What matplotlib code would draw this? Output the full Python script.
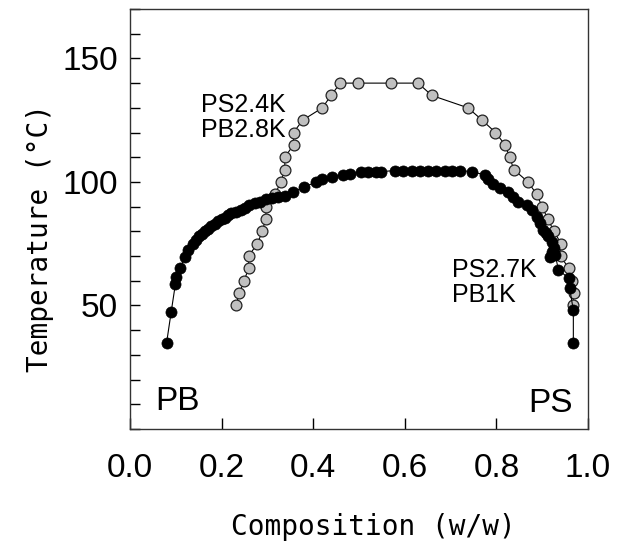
import matplotlib
matplotlib.use('Agg')
from matplotlib import pyplot as plt
from matplotlib.ticker import MultipleLocator

# PS2.4K / PB2.8K cloud points (grey)
gray_x = [0.231, 0.239, 0.249, 0.259, 0.259, 0.278, 0.289, 0.296, 0.298, 0.317,
          0.329, 0.338, 0.338, 0.357, 0.357, 0.377, 0.420, 0.439,
          0.459, 0.498, 0.569, 0.629,
          0.659, 0.738, 0.769, 0.798, 0.819, 0.829, 0.838, 0.869, 0.888,
          0.900, 0.912, 0.926, 0.941, 0.940, 0.958, 0.965, 0.969, 0.967]
gray_t = [50, 55, 60, 65, 70, 75, 80, 85, 90, 95,
          100, 105, 110, 115, 120, 125, 130, 135,
          140, 140, 140, 140,
          135, 130, 125, 120, 115, 110, 105, 100, 95,
          90, 85, 80, 75, 70, 65, 60, 55, 50]

# PS2.7K / PB1K cloud points (black)
black_x = [0.080, 0.090, 0.099, 0.101, 0.110, 0.119, 0.126, 0.137, 0.144, 0.150,
           0.157, 0.163, 0.170, 0.177, 0.185, 0.192, 0.200, 0.207, 0.214, 0.221,
           0.232, 0.243, 0.252, 0.260, 0.272, 0.283, 0.296, 0.310, 0.323, 0.338,
           0.356, 0.381, 0.407, 0.420, 0.442, 0.465, 0.480, 0.505, 0.520, 0.538,
           0.549, 0.578, 0.596, 0.615, 0.633, 0.651, 0.669, 0.687, 0.702, 0.720,
           0.746, 0.775, 0.782, 0.793, 0.808, 0.826, 0.837, 0.848, 0.866, 0.877,
           0.888, 0.895, 0.902, 0.908, 0.913, 0.921, 0.925, 0.922, 0.918, 0.929,
           0.935, 0.958, 0.960, 0.968, 0.968]
black_t = [35, 47.5, 58.5, 61.5, 65, 69.5, 72.5, 75, 76.5, 78,
           79, 80, 81, 82, 83, 84, 85, 85.5, 86.5, 87.3,
           88, 88.7, 89.5, 90.7, 91.3, 92, 93, 93.5, 94, 94.5,
           96, 98, 100, 101, 102, 103, 103.2, 104.2, 104.2, 104.2,
           104.2, 104.6, 104.6, 104.6, 104.6, 104.6, 104.6, 104.6, 104.6, 104.6,
           104.2, 102.8, 101, 99, 97.4, 96, 94, 92, 90.7, 88.7,
           86, 83.3, 80.6, 79.5, 78, 75.8, 73.2, 71.5, 69.8, 70.4,
           64.5, 61, 57, 48, 35]

tick_font = 'Liberation Sans'
label_font = 'DejaVu Sans Mono'

fig = plt.figure(figsize=(6.27, 5.44), dpi=100)
ax = fig.add_axes([130 / 627, 115 / 544, 458 / 627, 420 / 544])

ax.plot(gray_x, gray_t, '-o', color='black', lw=0.8, ms=7.8,
        mfc='#c0c0c0', mec='#222222', mew=0.9, zorder=2)
ax.plot(black_x, black_t, '-o', color='black', lw=0.8, ms=8.0,
        mfc='black', mec='black', mew=0.5, zorder=3)

ax.set_xlim(0, 1.0)
ax.set_ylim(0, 170)
ax.set_xticks([0.0, 0.2, 0.4, 0.6, 0.8, 1.0])
ax.set_xticklabels(['0.0', '0.2', '0.4', '0.6', '0.8', '1.0'])
ax.set_yticks([50, 100, 150])
ax.yaxis.set_minor_locator(MultipleLocator(10))
ax.tick_params(axis='both', which='both', direction='in', width=1,
               top=False, right=False)
ax.tick_params(axis='y', which='both', length=7.5, pad=8.5)
ax.tick_params(axis='x', which='major', length=8, pad=17.5)
for lab in ax.get_xticklabels() + ax.get_yticklabels():
    lab.set_family(tick_font)
    lab.set_fontsize(24)
for s in ax.spines.values():
    s.set_linewidth(1.0)
    s.set_color('#333333')

ax.text(0.156, 136.0, 'PS2.4K\nPB2.8K', family=tick_font, fontsize=18,
        va='top', linespacing=1.05)
ax.text(0.703, 69.3, 'PS2.7K\nPB1K', family=tick_font, fontsize=18,
        va='top', linespacing=1.05)
ax.text(0.056, 7.7, 'PB', family=tick_font, fontsize=24, va='baseline')
ax.text(0.967, 6.9, 'PS', family=tick_font, fontsize=24, va='baseline', ha='right')

fig.text(40 / 627, 1 - 237.5 / 544, 'Temperature (°C)', family=label_font,
         fontsize=20, rotation=90, ha='center', va='center')
fig.text(373 / 627, 9 / 544, 'Composition (w/w)', family=label_font,
         fontsize=20, ha='center', va='baseline')

fig.savefig('out.png', dpi=100)
